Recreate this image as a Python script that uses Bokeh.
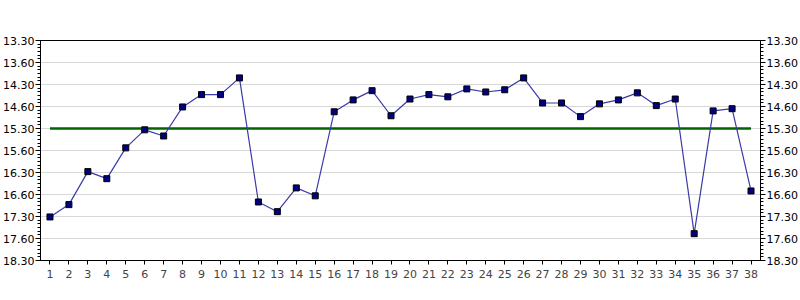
from bokeh.plotting import figure
from bokeh.models import Range1d, LinearAxis, SingleIntervalTicker, FixedTicker, ColumnDataSource
from bokeh.embed import file_html
from bokeh.resources import INLINE

laps = list(range(1, 39))
times = [17.51, 17.23, 16.48, 16.64, 15.94, 15.53, 15.67, 15.01, 14.73, 14.73,
         14.35, 17.17, 17.39, 16.85, 17.03, 15.12, 14.85, 14.64, 15.21, 14.83,
         14.73, 14.78, 14.60, 14.67, 14.62, 14.35, 14.92, 14.92, 15.23, 14.94,
         14.85, 14.69, 14.98, 14.83, 17.89, 15.10, 15.05, 16.92]
target = 15.5
y_ticks = [13.5, 14.0, 14.5, 15.0, 15.5, 16.0, 16.5, 17.0, 17.5, 18.0, 18.5]
y_labels = ["13.30", "13.60", "14.30", "14.60", "15.30", "15.60",
            "16.30", "16.60", "17.30", "17.60", "18.30"]

FONT = "DejaVu Sans"

p = figure(width=800, height=300, output_backend="svg", toolbar_location=None,
           x_range=Range1d(0.5, 38.5), y_range=Range1d(18.5, 13.5),
           frame_width=720, frame_height=220,
           min_border_left=40, min_border_right=40, min_border_top=40, min_border_bottom=40,
           y_axis_location="left")
p.outline_line_color = "black"
p.outline_line_width = 1
p.xgrid.visible = False
p.ygrid.grid_line_color = "#d8d8d8"
p.ygrid.ticker = FixedTicker(ticks=y_ticks)

overrides = {t: l for t, l in zip(y_ticks, y_labels)}

def style_y(ax):
    ax.ticker = SingleIntervalTicker(interval=0.5, num_minor_ticks=6)
    ax.major_label_overrides = overrides
    ax.major_label_text_font = FONT
    ax.major_label_text_font_size = "11px"
    ax.major_label_text_color = "#000000"
    ax.major_tick_in = 0
    ax.major_tick_out = 5
    ax.minor_tick_in = 0
    ax.minor_tick_out = 3
    ax.major_label_standoff = 1
    ax.axis_line_color = "black"

style_y(p.yaxis[0])
right = LinearAxis()
style_y(right)
p.add_layout(right, "right")

xa = p.xaxis[0]
xa.ticker = FixedTicker(ticks=laps)
xa.major_label_text_font = FONT
xa.major_label_text_font_size = "11px"
xa.major_tick_in = 0
xa.major_tick_out = 4
xa.minor_tick_out = 0
xa.major_label_standoff = 5
xa.axis_line_color = "black"

src = ColumnDataSource(dict(x=laps, y=times))
p.line([laps[0], laps[-1]], [target, target], line_color="#006400", line_width=2.5)
p.line("x", "y", source=src, line_color="#3a3aa8", line_width=1.2)
p.scatter("x", "y", source=src, marker="square", size=6, fill_color="#000080",
          line_color="#000000", line_width=1)

open("out.html", "w").write(file_html(p, INLINE))
